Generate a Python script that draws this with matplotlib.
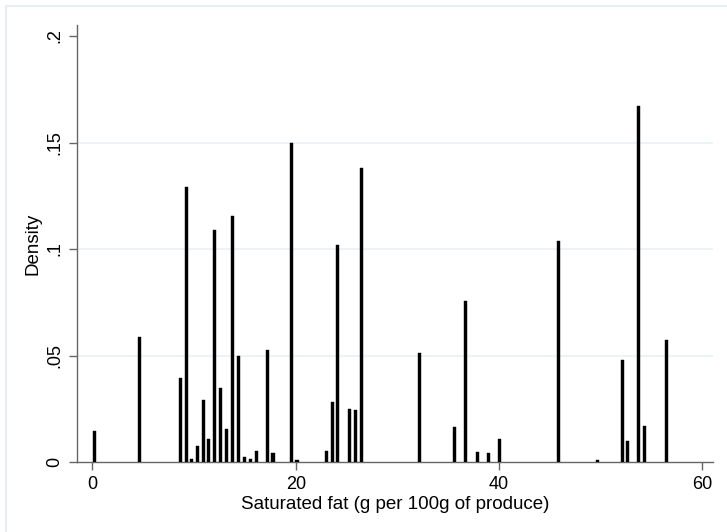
import matplotlib
matplotlib.use("Agg")
import matplotlib.pyplot as plt
from matplotlib.lines import Line2D

# Bar centres (g per 100g) and heights (density)
bin_centers = [0.17, 4.66, 8.69, 9.24, 9.80, 10.32, 10.91, 11.47, 12.04, 12.63,
               13.24, 13.81, 14.40, 14.95, 15.54, 16.10, 17.21, 17.77, 19.57, 20.13,
               22.99, 23.58, 24.14, 25.29, 25.88, 26.47, 32.15, 35.60, 36.68, 37.83,
               39.00, 40.06, 45.80, 49.70, 52.10, 52.60, 53.75, 54.30, 56.50]
densities = [0.0146, 0.0585, 0.0393, 0.1290, 0.0013, 0.0075, 0.0290, 0.0106, 0.1090, 0.0349,
             0.0155, 0.1155, 0.0500, 0.0025, 0.0014, 0.0052, 0.0524, 0.0040, 0.1496, 0.0010,
             0.0052, 0.0280, 0.1020, 0.0249, 0.0244, 0.1379, 0.0513, 0.0164, 0.0754, 0.0047,
             0.0042, 0.0106, 0.1039, 0.0010, 0.0479, 0.0099, 0.1671, 0.0169, 0.0573]

x_ticks = [0, 20, 40, 60]
x_tick_labels = ["0", "20", "40", "60"]
y_ticks = [0, 0.05, 0.10, 0.15, 0.20]
y_tick_labels = ["0", ".05", ".1", ".15", ".2"]
x_label = "Saturated fat (g per 100g of produce)"
y_label = "Density"

plt.rcParams['font.family'] = ['Liberation Sans', 'DejaVu Sans']

W, H = 727, 532
fig = plt.figure(figsize=(W / 100, H / 100), dpi=100)
fig.patch.set_facecolor("white")

# light outer frame (top and left edges visible)
frame_c = "#e6eef3"
fig.add_artist(Line2D([5.5 / W, 1.0], [1 - 5.5 / H, 1 - 5.5 / H], color=frame_c, lw=1.5,
                      transform=fig.transFigure))
fig.add_artist(Line2D([5.5 / W, 5.5 / W], [0.0, 1 - 5.5 / H], color=frame_c, lw=1.5,
                      transform=fig.transFigure))

left, right, bottom, top = 77, 713, 462, 25
ax = fig.add_axes([left / W, 1 - bottom / H, (right - left) / W, (bottom - top) / H])

ax.bar(bin_centers, densities, width=0.3, color="black", edgecolor="black", linewidth=0.3,
       zorder=3)

x0_px, x_scale = 92.3, 10.17
ax.set_xlim((left - x0_px) / x_scale, (right - x0_px) / x_scale)
ax.set_ylim(0, (bottom - top) / 2130.0)

for yv in [0.05, 0.10, 0.15]:
    ax.axhline(yv, color="#eaf2f3", lw=1.2, zorder=1)

ax.set_xticks(x_ticks)
ax.set_xticklabels(x_tick_labels, fontsize=13)
ax.set_yticks(y_ticks)
ax.set_yticklabels(y_tick_labels, fontsize=13, rotation=90, va="center")

for s in ["top", "right"]:
    ax.spines[s].set_visible(False)
for s in ["left", "bottom"]:
    ax.spines[s].set_color("#666666")
    ax.spines[s].set_linewidth(1.0)

ax.tick_params(axis="both", direction="out", length=6, width=1.0, color="#666666",
               labelcolor="black", pad=4)

ax.set_xlabel(x_label, fontsize=13.5, labelpad=2)
ax.set_ylabel(y_label, fontsize=13.5, labelpad=3)

fig.savefig("out.png", dpi=100, facecolor="white")
